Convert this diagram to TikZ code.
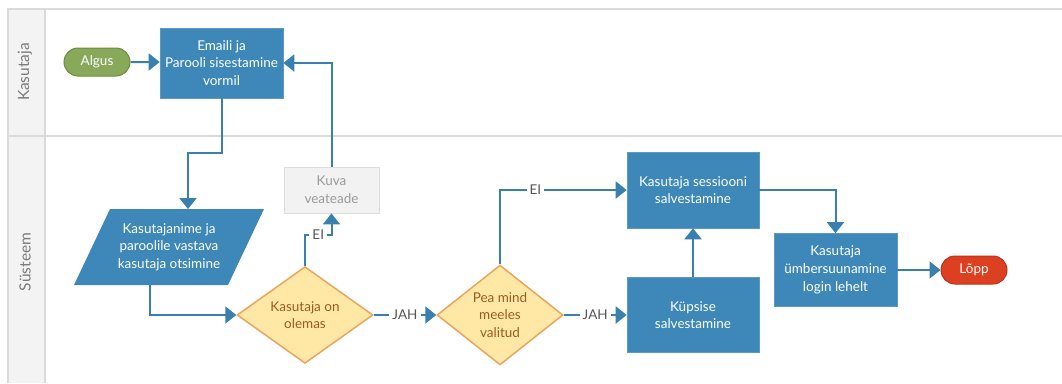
\documentclass[tikz,border=0pt]{standalone}
\usepackage{fontspec}
\setmainfont{Lato}
\usetikzlibrary{arrows.meta,shapes.geometric,shapes.misc,calc}

\definecolor{procblue}{HTML}{3D88B8}
\definecolor{flowblue}{HTML}{3A80AE}
\definecolor{decfill}{HTML}{FFE8A6}
\definecolor{decline}{HTML}{E8A55C}
\definecolor{dectext}{HTML}{9C5B1E}
\definecolor{startfill}{HTML}{88A85A}
\definecolor{startline}{HTML}{6D8C3F}
\definecolor{endfill}{HTML}{DC4020}
\definecolor{endline}{HTML}{B8321C}
\definecolor{msgfill}{HTML}{F2F2F2}
\definecolor{msgline}{HTML}{DDDDDD}
\definecolor{msgtext}{HTML}{9A9A9A}
\definecolor{lanefill}{HTML}{F3F3F3}
\definecolor{laneline}{HTML}{DADADA}
\definecolor{lanetext}{HTML}{7A7A7A}
\definecolor{labeltext}{HTML}{555555}

\tikzset{
  basefont/.style={font=\fontsize{13.5}{17.7}\selectfont},
  proc/.style={basefont, rectangle, fill=procblue, draw=procblue!85!white, line width=0.6pt,
    text=white, align=center, inner sep=0pt},
  decision/.style={basefont, diamond, fill=decfill, draw=decline, line width=1.5pt,
    text=dectext, align=center, inner sep=0pt},
  terminal/.style={basefont, rounded rectangle, line width=1pt, text=white,
    minimum width=66pt, minimum height=28pt, inner sep=0pt},
  message/.style={basefont, rectangle, fill=msgfill, draw=msgline, line width=0.8pt,
    text=msgtext, align=center, inner sep=0pt},
  flow/.style={draw=flowblue, line width=2pt, -{Triangle[length=11pt,width=17pt]}},
  flowlabel/.style={basefont, fill=white, text=labeltext, inner sep=3pt},
  lanetitle/.style={font=\fontsize{15.5}{18}\selectfont, text=lanetext, rotate=90},
  laneborder/.style={draw=laneline, line width=1.6pt}
}

\begin{document}
\begin{tikzpicture}[x=1pt, y=-1pt]
\useasboundingbox (0,0) rectangle (1062,383);

% swimlanes
\fill[lanefill] (8,9) rectangle (45,383);
\draw[laneborder] (8,383) -- (8,9) -- (1062,9);
\draw[laneborder] (8,136) -- (1062,136);
\draw[laneborder] (45,9) -- (45,383);
\node[lanetitle] (laneuser) at (25,72) {Kasutaja};
\node[lanetitle] (lanesys) at (25,262) {Süsteem};

% user lane
\node[terminal, fill=startfill, draw=startline] (algus) at (97,62) {Algus};
\node[proc, minimum width=123pt, minimum height=70pt] (input) at (221.5,63) {Emaili ja\\Parooli sisestamine\\vormil};

% system lane: lookup (parallelogram)
\fill[procblue] (74,285) -- (110,209) -- (264,209) -- (228,285) -- cycle;
\node[basefont, text=white, align=center] (search) at (169,247) {Kasutajanime ja\\paroolile vastava\\kasutaja otsimine};
\coordinate (searchtop) at (188,209);
\coordinate (searchbot) at (150,285);

\node[decision, minimum width=136pt, minimum height=80pt] (exists) at (305,315) {Kasutaja on\\olemas};
\node[message, minimum width=95pt, minimum height=46pt] (error) at (331.5,190) {Kuva\\veateade};
\node[decision, minimum width=126pt, minimum height=84pt] (remember) at (500,315) {Pea mind\\meeles\\valitud};
\node[proc, minimum width=132pt, minimum height=76pt] (session) at (693,190) {Kasutaja sessiooni\\salvestamine};
\node[proc, minimum width=132pt, minimum height=75pt] (cookie) at (693,315) {Küpsise\\salvestamine};
\node[proc, minimum width=123pt, minimum height=73pt] (redirect) at (835.5,270) {Kasutaja\\ümbersuunamine\\login lehelt};
\node[terminal, fill=endfill, draw=endline] (lopp) at (974,270) {Lõpp};

% connectors
\draw[flow] (algus) -- (algus -| input.west);
\draw[flow] (input.south) -- ++(0,55) -| (searchtop);
\draw[flow] (searchbot) |- (exists.west);
\draw[flow] (exists.north) -- ++(0,-31) -| node[flowlabel, pos=0.25] {EI} (error.south);
\draw[flow] (error.north) |- (input.east);
\draw[flow] (exists.east) -- node[flowlabel] {JAH} (remember.west);
\draw[flow] (remember.north) |- node[flowlabel, pos=0.64] {EI} (session.west);
\draw[flow] (remember.east) -- node[flowlabel] {JAH} (cookie.west);
\draw[flow] (cookie.north) -- (session.south);
\draw[flow] (session.east) -| (redirect.north);
\draw[flow] (redirect.east) -- (lopp.west);
\end{tikzpicture}
\end{document}
